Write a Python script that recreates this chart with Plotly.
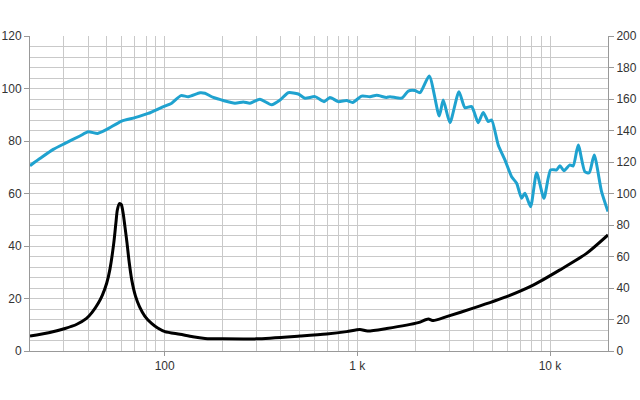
import plotly.graph_objects as go

# SPL curve (left axis, dB)
spl_freq = [20, 22.6, 26.4, 30.4, 36.3, 40.1, 44.9, 50, 59.8, 70.1, 82.2, 96.5, 108.7, 121.5, 132.6,
            152.5, 161.8, 178.8, 231.6, 255.8, 277, 312, 359, 397, 438, 494, 535, 603, 671, 721, 796,
            880, 946, 1053, 1163, 1260, 1419, 1476, 1698, 1838, 1990, 2114, 2362, 2661, 2792, 3024,
            3368, 3617, 3920, 4240, 4500, 4780, 4978, 5386, 5834, 6320, 6712, 7120, 7410, 7930, 8520,
            9300, 10070, 10820, 11260, 11800, 12680, 13190, 14010, 15170, 15980, 16960, 18520, 20000]
spl_db = [70.6, 73.4, 76.8, 79.1, 81.9, 83.5, 82.9, 84.4, 87.6, 88.9, 90.5, 92.8, 94.4, 97.3, 96.9,
          98.4, 98.2, 96.6, 94.4, 94.9, 94.4, 95.9, 93.8, 95.6, 98.4, 97.9, 96.3, 96.9, 95.0, 96.6, 95.0,
          95.4, 94.7, 97.1, 96.9, 97.4, 96.6, 96.9, 96.3, 99.0, 99.2, 98.4, 104.8, 89.5, 95.6, 87.0,
          98.8, 92.7, 93.1, 87.0, 90.9, 87.4, 88.0, 78.5, 72.8, 66.4, 63.9, 58.2, 60.1, 55.0, 67.9,
          58.2, 69.0, 69.0, 70.6, 68.7, 70.9, 70.5, 78.5, 68.3, 67.9, 74.7, 60.7, 53.1]

# Impedance curve (right axis)
imp_freq = [20, 25, 30.4, 35, 39.3, 42, 45.2, 47.5, 50, 52, 54.4, 55.8, 56.8, 58.2, 59.5, 60.8, 62.2,
            63.8, 65.5, 67.5, 70.5, 74.0, 79, 85.5, 92, 100.3, 120, 140, 162,
            201, 300, 504, 693, 880, 1032, 1130, 1419, 2070, 2334, 2480, 2906, 3995, 5954, 8180,
            11260, 15480, 20000]
imp_val = [9.5, 11.6, 14.3, 17.0, 20.7, 24.5, 30.3, 35.5, 43.0, 52.0, 68.3, 81.0, 89.5, 93.6, 93.0,
           88.0, 79.0, 68.3, 56.0, 45.0, 35.0, 28.2, 22.0, 17.5, 14.6, 12.3, 10.6, 9.0, 8.0,
           7.7, 7.7, 9.5, 10.8, 12.3, 13.7, 12.7, 14.3, 18.0, 20.3, 19.3, 21.8, 27.2, 34.5, 41.8,
           51.5, 62.0, 73.7]

minor_x = [20, 30, 40, 50, 60, 70, 80, 90, 200, 300, 400, 500, 600, 700, 800, 900,
           2000, 3000, 4000, 5000, 6000, 7000, 8000, 9000, 20000]
major_x = [100, 1000, 10000]
major_x_text = ["100", "1 k", "10 k"]

grid = "#c9c9c9"
font = dict(family="Liberation Sans, Arial, sans-serif", size=12, color="#333333")

fig = go.Figure()
fig.add_trace(go.Scatter(x=spl_freq, y=spl_db, mode="lines",
                         line=dict(color="#1fa2cf", width=3, shape="spline", smoothing=0.6),
                         yaxis="y", hoverinfo="skip"))
fig.add_trace(go.Scatter(x=imp_freq, y=imp_val, mode="lines",
                         line=dict(color="#000000", width=3, shape="spline", smoothing=0.7),
                         yaxis="y2", hoverinfo="skip"))

fig.update_layout(
    width=640, height=400,
    margin=dict(l=30, r=32, t=36, b=49),
    paper_bgcolor="white", plot_bgcolor="white",
    showlegend=False, font=font,
    xaxis=dict(type="log", range=[1.30103, 4.30103], automargin=False,
               tickvals=major_x, ticktext=major_x_text,
               ticks="outside", ticklen=4, tickcolor="#999999",
               showgrid=True, gridcolor=grid, gridwidth=1,
               minor=dict(tickvals=minor_x, showgrid=True, gridcolor=grid, gridwidth=1, ticks=""),
               showline=True, linecolor="#999999", linewidth=1,
               zeroline=False, tickfont=font),
    yaxis=dict(range=[0, 120], tickvals=[0, 20, 40, 60, 80, 100, 120], automargin=False,
               ticks="outside", ticklen=5, tickcolor="#999999",
               showgrid=True, gridcolor=grid, gridwidth=1,
               minor=dict(dtick=4, showgrid=True, gridcolor=grid, gridwidth=1, ticks=""),
               showline=True, linecolor="#999999", linewidth=1,
               zeroline=False, tickfont=font),
    yaxis2=dict(range=[0, 200], tickvals=[0, 20, 40, 60, 80, 100, 120, 140, 160, 180, 200],
                overlaying="y", side="right", automargin=False,
                ticks="outside", ticklen=5, tickcolor="#999999",
                showgrid=False, showline=True, linecolor="#999999", linewidth=1,
                zeroline=False, tickfont=font),
)

fig.write_html("out.html")
